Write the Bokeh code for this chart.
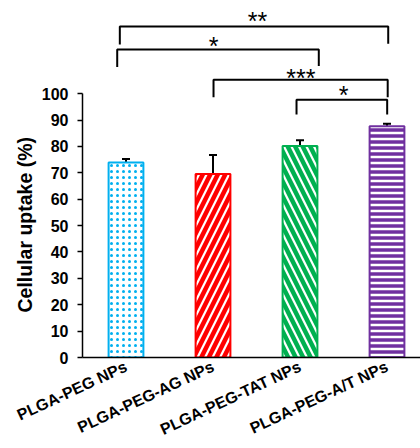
from bokeh.plotting import figure
from bokeh.models import ColumnDataSource, Whisker, TeeHead, FixedTicker, Range1d, Title
from bokeh.core.properties import value
from bokeh.embed import file_html
from bokeh.resources import INLINE

# ---- data ----
categories = ["PLGA-PEG NPs", "PLGA-PEG-AG NPs", "PLGA-PEG-TAT NPs", "PLGA-PEG-A/T NPs"]
uptake = [73.9, 69.5, 80.2, 87.6]
errors = [1.3, 7.2, 2.1, 1.0]
colors = ["#00B0F0", "#FF0000", "#00B050", "#7030A0"]
patterns = [".", "/", "\\", "-"]
y_ticks = [0, 10, 20, 30, 40, 50, 60, 70, 80, 90, 100]

# significance brackets (x in category units, y in % units)
br_x0 = [-0.071, -0.101, 1.006, 1.960]
br_x1 = [3.014, 2.216, 3.008, 3.002]
br_top = [125.45, 116.76, 105.3, 97.73]
br_left_bot = [118.65, 110.06, 98.6, 92.06]
br_right_bot = [118.9, 110.44, 98.6, 92.06]
stars = ["**", "*", "***", "*"]
star_x = [1.511, 1.006, 2.011, 2.5]
star_y = [127.5, 118.1, 105.8, 99.5]

FONT = "Liberation Sans"

xs = list(range(len(categories)))
src = ColumnDataSource(dict(
    x=xs, top=uptake, color=colors, pattern=patterns,
    lower=uptake, upper=[u + e for u, e in zip(uptake, errors)],
    hscale=[6, 15, 15, 6], hweight=[7, 4.5, 4.5, 3.5],
))

p = figure(width=420, height=448, output_backend="svg", toolbar_location=None,
           x_range=Range1d(-0.5, 3.385), y_range=Range1d(0, 135.3),
           min_border_left=82, min_border_right=0, min_border_top=0, min_border_bottom=90)
p.outline_line_color = None
p.xgrid.visible = False
p.ygrid.visible = False
p.background_fill_color = "white"

p.vbar(x="x", top="top", width=0.4, source=src, fill_color="white",
       line_color="color", line_width=2, hatch_pattern="pattern",
       hatch_color="color", hatch_scale="hscale", hatch_weight="hweight")

wh = Whisker(base="x", lower="lower", upper="upper", source=src, dimension="height",
             line_color="black", line_width=2,
             upper_head=TeeHead(size=8, line_width=2, line_color="black"), lower_head=None)
p.add_layout(wh)

bx = [[a, a, b, b] for a, b in zip(br_x0, br_x1)]
by = [[lb, t, t, rb] for t, lb, rb in zip(br_top, br_left_bot, br_right_bot)]
p.multi_line(xs=bx, ys=by, line_color="black", line_width=2)

p.text(x=star_x, y=star_y, text=stars, text_font=value(FONT), text_font_size="25px",
       text_align="center", text_baseline="alphabetic", text_color="black")

# axes
p.xaxis.ticker = FixedTicker(ticks=xs)
p.xaxis.major_label_overrides = {i: c for i, c in enumerate(categories)}
p.xaxis.major_label_orientation = 0.436
p.xaxis.major_tick_out = 0
p.xaxis.major_tick_in = 0
p.xaxis.minor_tick_out = 0
p.xaxis.minor_tick_in = 0
p.xaxis.axis_line_width = 1.5
p.xaxis.axis_line_color = "black"
p.xaxis.major_label_text_font = FONT
p.xaxis.major_label_text_font_style = "bold"
p.xaxis.major_label_text_font_size = "16px"
p.xaxis.major_label_text_color = "black"
p.xaxis.major_label_standoff = 8

p.yaxis.ticker = FixedTicker(ticks=y_ticks)
p.yaxis.bounds = (0, 100)
p.yaxis.major_tick_out = 5
p.yaxis.major_tick_in = 0
p.yaxis.minor_tick_out = 0
p.yaxis.minor_tick_in = 0
p.yaxis.axis_line_width = 1.5
p.yaxis.major_tick_line_width = 1.5
p.yaxis.axis_line_color = "black"
p.yaxis.major_label_text_font = FONT
p.yaxis.major_label_text_font_style = "bold"
p.yaxis.major_label_text_font_size = "16px"
p.yaxis.major_label_text_color = "black"
p.yaxis.major_label_standoff = 9

# y-axis title, starting near the bottom of the 0-100 span of the axis
ytitle = Title(text="Cellular  uptake (%)", align="left", offset=45, standoff=6,
               text_font=FONT, text_font_style="bold", text_font_size="19.5px",
               text_color="black")
p.add_layout(ytitle, "left")

open("out.html", "w").write(file_html(p, INLINE))
